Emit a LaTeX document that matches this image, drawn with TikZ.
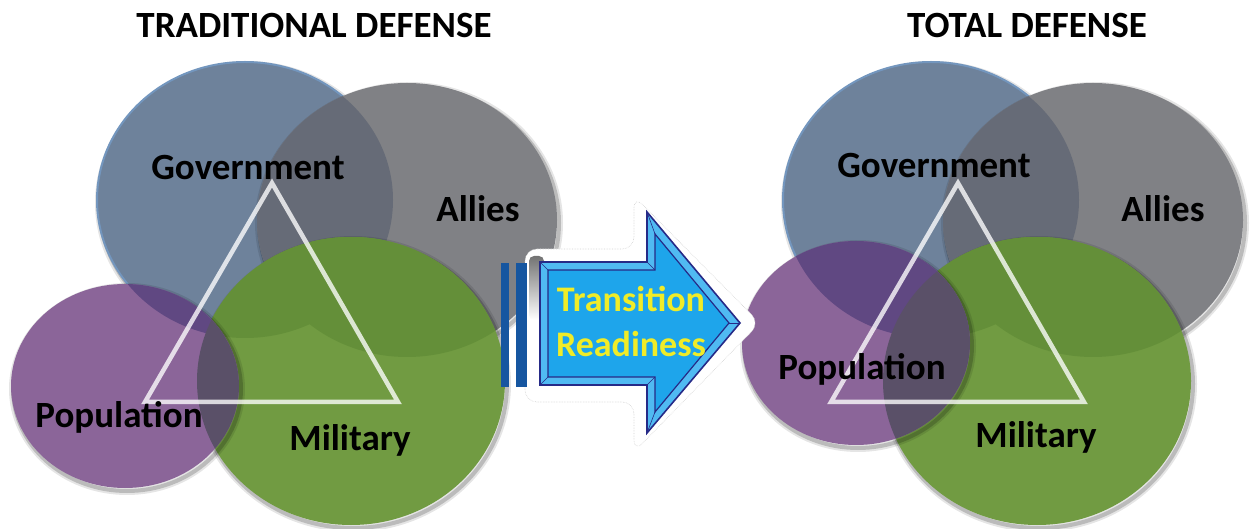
\documentclass[tikz,border=0pt]{standalone}
\usepackage{fontspec}
\setmainfont{Carlito}
\definecolor{govc}{RGB}{110,130,155}
\definecolor{govrim}{RGB}{115,150,190}
\definecolor{allyc}{RGB}{128,129,133}
\definecolor{govallyc}{RGB}{102,107,119}
\definecolor{milc}{RGB}{113,155,66}
\definecolor{mildarkc}{RGB}{100,143,57}
\definecolor{popc}{RGB}{139,101,153}
\definecolor{popgovc}{RGB}{96,72,130}
\definecolor{popmilc}{RGB}{90,80,104}
\definecolor{barc}{RGB}{22,86,160}
\definecolor{arrline}{RGB}{38,42,135}
\definecolor{arrouter}{RGB}{80,186,242}
\definecolor{arrinner}{RGB}{30,165,235}
\definecolor{txtyellow}{RGB}{240,236,40}

\newcommand\vgshadow[1]{%
  \begin{scope}[shift={(2,3)}]
    \draw[black, draw opacity=0.10, line width=8pt] #1;
    \draw[black, draw opacity=0.18, line width=4pt] #1;
  \end{scope}}

\newcommand\vgroup[3]{%
 \begin{scope}[xshift=#1pt]
  \def\vgGov{(245,200) ellipse [x radius=148pt, y radius=138pt]}%
  \def\vgAlly{(407,220) ellipse [x radius=150pt, y radius=137pt]}%
  \def\vgMil{(351,381) ellipse [x radius=154pt, y radius=144pt]}%
  \def\vgPop{(#2,#3) ellipse [x radius=114pt, y radius=102pt]}%
  \vgshadow{\vgGov}
  \fill[govc] \vgGov;
  \draw[govrim, line width=2pt] \vgGov;
  \vgshadow{\vgAlly}
  \fill[allyc] \vgAlly;
  \begin{scope}\clip \vgAlly; \fill[govallyc] \vgGov; \end{scope}
  \vgshadow{\vgMil}
  \fill[milc] \vgMil;
  \begin{scope}\clip \vgMil; \fill[mildarkc] \vgGov; \fill[mildarkc] \vgAlly; \end{scope}
  \vgshadow{\vgPop}
  \fill[popc] \vgPop;
  \begin{scope}\clip \vgPop; \fill[popgovc] \vgGov; \fill[popmilc] \vgMil; \end{scope}
  \draw[tri] (272,183) -- (145,402) -- (398,402) -- cycle;
 \end{scope}}

\begin{document}
\begin{tikzpicture}[x=1pt,y=-1pt,
  lbl/.style={font=\fontsize{37}{40}\selectfont\bfseries, text=black, inner sep=0pt, anchor=base},
  arrlbl/.style={font=\fontsize{36}{40}\selectfont\bfseries, text=txtyellow, inner sep=0pt, anchor=base},
  tri/.style={draw=white, draw opacity=0.78, line width=4.5pt, line join=miter},
  barstyle/.style={fill=barc},
  arrframe/.style={draw=arrline, line join=miter}]
\useasboundingbox (0,0) rectangle (1254,529);
\fill[white] (0,0) rectangle (1254,529);

% left group: traditional defense
\vgroup{0}{125}{386}
% right group: total defense
\vgroup{686}{170}{343}

% panel behind the arrow
\draw[gray!35, densely dotted, line width=0.6pt, fill=white, rounded corners=12pt]
  (525,249) -- (634,249) -- (634,196) -- (760,323) -- (634,452) -- (634,402) -- (525,402) -- cycle;
\shade[top color=black!55, bottom color=white, rounded corners=5pt] (529,256) rectangle (544,320);

% bars
\fill[barstyle] (501,263) rectangle (509,387);
\fill[barstyle] (516,263) rectangle (527,387);

% arrow
\coordinate (o1) at (540,262); \coordinate (o2) at (647,262); \coordinate (o3) at (647,212);
\coordinate (o4) at (740,323); \coordinate (o5) at (647,433); \coordinate (o6) at (647,385);
\coordinate (o7) at (540,385);
\coordinate (i1) at (548,270); \coordinate (i2) at (655,270); \coordinate (i3) at (655,234);
\coordinate (i4) at (729,323); \coordinate (i5) at (655,412); \coordinate (i6) at (655,377);
\coordinate (i7) at (548,377);
\path[arrframe, fill=arrouter, line width=1.6pt] (o1) -- (o2) -- (o3) -- (o4) -- (o5) -- (o6) -- (o7) -- cycle;
\path[arrframe, fill=arrinner, line width=1.2pt] (i1) -- (i2) -- (i3) -- (i4) -- (i5) -- (i6) -- (i7) -- cycle;
\foreach \k in {1,...,7} {\draw[arrline, line width=0.6pt] (o\k) -- (i\k);}

\node[arrlbl] (trans1) at (631,312) {Transition};
\node[arrlbl] (trans2) at (631,357) {Readiness};

% labels
\node[lbl] (titleL) at (314,38) {TRADITIONAL DEFENSE};
\node[lbl] (govL) at (248,180) {Government};
\node[lbl] (allyL) at (478,222) {Allies};
\node[lbl] (popL) at (119,428) {Population};
\node[lbl] (milL) at (350,450) {Military};

\node[lbl] (titleR) at (1027,38) {TOTAL DEFENSE};
\node[lbl] (govR) at (934,178) {Government};
\node[lbl] (allyR) at (1163,222) {Allies};
\node[lbl] (popR) at (862,380) {Population};
\node[lbl] (milR) at (1036,447) {Military};
\end{tikzpicture}
\end{document}
